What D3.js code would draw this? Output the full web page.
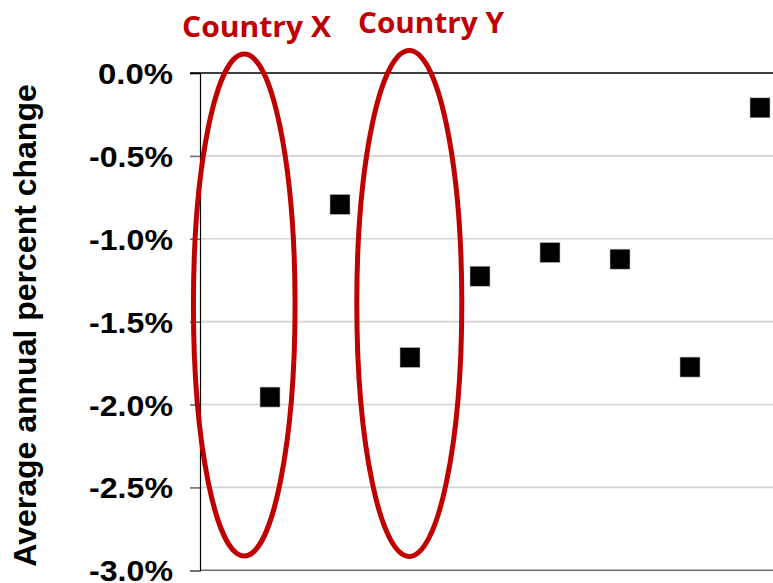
<!DOCTYPE html>
<html>
<head>
<meta charset="utf-8">
<script src="https://cdn.jsdelivr.net/npm/d3@7/dist/d3.min.js"></script>
<style>
  html, body { margin: 0; padding: 0; background: #fff; }
  svg { display: block; }
</style>
</head>
<body>
<script>
// Average annual percent change per country (percent)
const positions = [1, 2, 3, 4, 5, 6, 7, 8];
const values = [-1.955, -0.793, -1.716, -1.226, -1.083, -1.123, -1.774, -0.21];
const yTicks = [0, -0.5, -1.0, -1.5, -2.0, -2.5, -3.0];
const yTickLabels = ["0.0%", "-0.5%", "-1.0%", "-1.5%", "-2.0%", "-2.5%", "-3.0%"];
// Highlight ellipses: centre position, centre value, half-width (positions), half-height (percent)
const highlights = [
  { label: "Country X", cx: 0.632, cy: -1.4, rx: 0.726, ry: 1.514, tx: -0.257, ty: 37, tw: 149 },
  { label: "Country Y", cx: 2.99, cy: -1.39, rx: 0.75, ry: 1.526, tx: 2.257, ty: 33, tw: 146 }
];

const W = 773, H = 583;
const plotLeft = 200, plotRight = 774, plotTop = 73, plotBottom = 570.3;
const red = "#C00000";

const svg = d3.select("body").append("svg").attr("width", W).attr("height", H);

const x = d3.scaleLinear().domain([0, 8.2]).range([plotLeft, plotRight]);
const y = d3.scaleLinear().domain([-3, 0]).range([plotBottom, plotTop]);

// gridlines
svg.append("g").selectAll("line").data(yTicks.filter(t => t !== 0 && t !== -3)).join("line")
  .attr("x1", plotLeft).attr("x2", W).attr("y1", d => y(d)).attr("y2", d => y(d))
  .attr("stroke", "#d4d4d4").attr("stroke-width", 1.6);

// bottom baseline
svg.append("line").attr("x1", plotLeft).attr("x2", W).attr("y1", y(-3)).attr("y2", y(-3))
  .attr("stroke", "#6e6e6e").attr("stroke-width", 1.6);

// y axis
const yAxis = d3.axisLeft(y).tickValues(yTicks).tickSize(10).tickFormat((d, i) => yTickLabels[i]);
const ga = svg.append("g").attr("transform", `translate(${plotLeft},0)`).call(yAxis);
ga.select(".domain").attr("stroke", "#000").attr("stroke-width", 1.2);
ga.selectAll(".tick line").attr("stroke", d => d === 0 ? "#000" : "#6e6e6e").attr("stroke-width", 1.6);
ga.selectAll(".tick text")
  .attr("x", -27).attr("dy", "0.35em")
  .attr("font-family", "Liberation Sans, Arial, sans-serif")
  .attr("font-weight", "bold").attr("font-size", 30)
  .attr("fill", "#000")
  .attr("textLength", (d, i) => yTickLabels[i].length === 4 ? 75 : 84)
  .attr("lengthAdjust", "spacingAndGlyphs");

// zero line on top
svg.append("line").attr("x1", plotLeft - 10).attr("x2", W).attr("y1", y(0)).attr("y2", y(0))
  .attr("stroke", "#000").attr("stroke-width", 1.6);

// y axis title
svg.append("text")
  .attr("transform", `translate(36,${(83 + 568) / 2}) rotate(-90)`)
  .attr("text-anchor", "middle")
  .attr("font-family", "Liberation Sans, Arial, sans-serif")
  .attr("font-weight", "bold").attr("font-size", 32)
  .attr("fill", "#000")
  .text("Average annual percent change");

// data markers
svg.append("g").selectAll("rect").data(values).join("rect")
  .attr("x", (d, i) => x(positions[i]) - 10)
  .attr("y", d => y(d) - 10)
  .attr("width", 20).attr("height", 20)
  .attr("fill", "#000")
  .attr("stroke", "#bbb").attr("stroke-width", 0.6);

// highlight ellipses and their labels
svg.append("g").selectAll("ellipse").data(highlights).join("ellipse")
  .attr("cx", d => x(d.cx)).attr("cy", d => y(d.cy))
  .attr("rx", d => x(d.cx + d.rx) - x(d.cx))
  .attr("ry", d => y(d.cy - d.ry) - y(d.cy))
  .attr("fill", "none").attr("stroke", red).attr("stroke-width", 5);

svg.append("g").selectAll("text").data(highlights).join("text")
  .attr("x", d => x(d.tx)).attr("y", d => d.ty)
  .attr("font-family", "Open Sans, sans-serif")
  .attr("font-weight", "bold").attr("font-size", 29)
  .attr("fill", red)
  .attr("textLength", d => d.tw).attr("lengthAdjust", "spacingAndGlyphs")
  .text(d => d.label);
</script>
</body>
</html>
